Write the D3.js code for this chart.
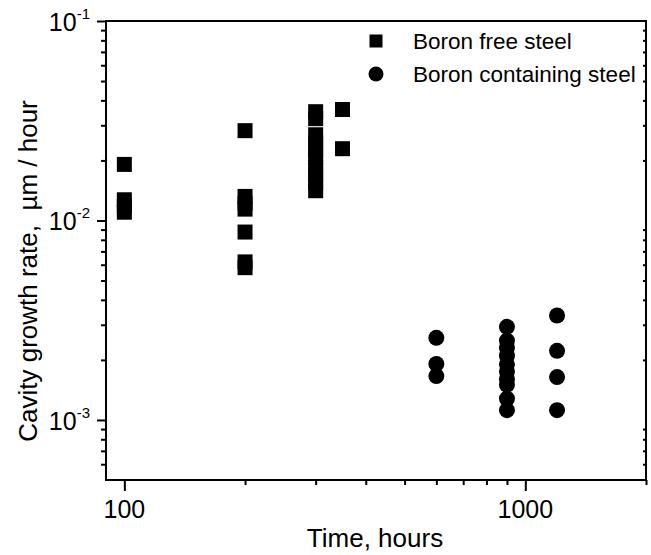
<!DOCTYPE html>
<html>
<head>
<meta charset="utf-8">
<script src="https://cdn.jsdelivr.net/npm/d3@7"></script>
<style>
  body { margin: 0; background: #fff; }
  text { font-family: "Liberation Sans", Arial, sans-serif; fill: #000; }
</style>
</head>
<body>
<div id="chart"></div>
<script>
// boron free steel (squares)
var freeTime = [100, 100, 100, 100,
  200, 200, 200, 200, 200, 200, 200,
  300, 300, 300, 300, 300, 300, 300, 300, 300, 300,
  350, 350];
var freeRate = [0.0191, 0.0127, 0.0118, 0.0110,
  0.0282, 0.0132, 0.0122, 0.0114, 0.00875, 0.0062, 0.0058,
  0.0351, 0.0324, 0.0269, 0.0245, 0.0225, 0.0205, 0.0185, 0.0170, 0.0155, 0.0141,
  0.0360, 0.0229];

// boron containing steel (circles)
var boronTime = [600, 600, 600,
  900, 900, 900, 900, 900, 900, 900, 900, 900, 900,
  1200, 1200, 1200, 1200];
var boronRate = [0.00258, 0.00191, 0.00166,
  0.00293, 0.0025, 0.0023, 0.0021, 0.0019, 0.00175, 0.0016, 0.0015, 0.00128, 0.00112,
  0.00334, 0.00222, 0.00164, 0.00112];

var legendLabels = ["Boron free steel", "Boron containing steel"];
var xMajor = [100, 1000];
var xMinor = [200, 300, 400, 500, 600, 700, 800, 900, 2000];
var yMajor = [1e-3, 1e-2, 1e-1];
var yExp = ["-3", "-2", "-1"];
var yMinor = [6e-4, 7e-4, 8e-4, 9e-4, 2e-3, 3e-3, 4e-3, 5e-3, 6e-3, 7e-3, 8e-3, 9e-3,
  2e-2, 3e-2, 4e-2, 5e-2, 6e-2, 7e-2, 8e-2, 9e-2];

var W = 651, H = 555;
var margin = {left: 106, top: 21, right: 5, bottom: 75};
var w = W - margin.left - margin.right, h = H - margin.top - margin.bottom;

var svg = d3.select("#chart").append("svg")
  .attr("width", W)
  .attr("height", H);
var g = svg.append("g")
  .attr("transform", "translate(" + margin.left + "," + margin.top + ")");

var x = d3.scaleLog().domain([90, 2000]).range([0, w]);
var y = d3.scaleLog().domain([5e-4, 0.1]).range([h, 0]);

// axes: major and minor ticks
function styleAxis(sel) {
  sel.select(".domain").remove();
  sel.selectAll("line").attr("stroke", "#000").attr("stroke-width", 2);
  sel.selectAll("text").remove();
}
g.append("g").attr("transform", "translate(0," + h + ")")
  .call(d3.axisBottom(x).tickValues(xMajor).tickSize(11)).call(styleAxis);
g.append("g").attr("transform", "translate(0," + h + ")")
  .call(d3.axisBottom(x).tickValues(xMinor).tickSize(5)).call(styleAxis);
g.append("g")
  .call(d3.axisLeft(y).tickValues(yMajor).tickSize(9)).call(styleAxis);
g.append("g")
  .call(d3.axisLeft(y).tickValues(yMinor).tickSize(5)).call(styleAxis);
g.append("g").attr("transform", "translate(" + w + ",0)")
  .call(d3.axisLeft(y).tickValues(yMinor).tickSize(3)).call(styleAxis);

// frame
g.append("rect")
  .attr("width", w).attr("height", h)
  .attr("fill", "none").attr("stroke", "#000").attr("stroke-width", 2);

// tick labels
g.selectAll(".xlab").data(xMajor).enter().append("text")
  .attr("x", function(d) { return x(d); })
  .attr("y", h + 38)
  .attr("text-anchor", "middle")
  .attr("font-size", "25px")
  .text(function(d) { return d; });

var ylab = g.selectAll(".ylab").data(yMajor).enter().append("text")
  .attr("x", -16)
  .attr("y", function(d) { return y(d) + 10; })
  .attr("text-anchor", "end")
  .attr("font-size", "25px");
ylab.append("tspan").text("10");
ylab.append("tspan").attr("dy", -12).attr("font-size", "15px")
  .text(function(d, i) { return yExp[i]; });

// axis titles
svg.append("text")
  .attr("x", 375).attr("y", 547)
  .attr("text-anchor", "middle")
  .attr("font-size", "26px")
  .text("Time, hours");
svg.append("text")
  .attr("transform", "translate(37,271) rotate(-90)")
  .attr("text-anchor", "middle")
  .attr("font-size", "26px")
  .attr("xml:space", "preserve")
  .text("Cavity growth rate,  \u00b5m / hour");

// data
var sq = 15;
g.selectAll(".sq").data(freeTime).enter().append("rect")
  .attr("x", function(d) { return x(d) - sq / 2; })
  .attr("y", function(d, i) { return y(freeRate[i]) - sq / 2; })
  .attr("width", sq).attr("height", sq)
  .attr("fill", "#000");
g.selectAll(".ci").data(boronTime).enter().append("circle")
  .attr("cx", function(d) { return x(d); })
  .attr("cy", function(d, i) { return y(boronRate[i]); })
  .attr("r", 8)
  .attr("fill", "#000");

// legend
var legend = svg.append("g").attr("transform", "translate(376,41)");
legend.append("rect").attr("x", -6.5).attr("y", -6.5).attr("width", 13).attr("height", 13).attr("fill", "#000");
legend.append("circle").attr("cx", 0).attr("cy", 33).attr("r", 7.5).attr("fill", "#000");
legend.selectAll("text").data(legendLabels).enter().append("text")
  .attr("x", 37)
  .attr("y", function(d, i) { return 8 + i * 33; })
  .attr("font-size", "22.5px")
  .text(function(d) { return d; });
</script>
</body>
</html>
